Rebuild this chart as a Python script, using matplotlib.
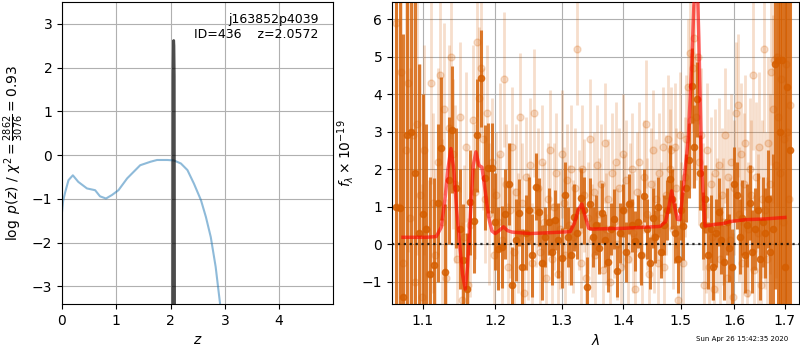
import matplotlib
matplotlib.use("Agg")
import matplotlib.pyplot as plt
import numpy as np
from matplotlib.ticker import NullLocator

# ---- redshift PDF (left panel) ----
z_grid = [0.0, 0.02, 0.06, 0.12, 0.20, 0.30, 0.46, 0.61, 0.70, 0.81, 0.92,
          1.04, 1.20, 1.44, 1.63, 1.75, 1.94, 2.06, 2.19, 2.31, 2.43, 2.56,
          2.65, 2.74, 2.83, 2.91, 3.00]
log_pz = [-1.30, -1.05, -0.84, -0.57, -0.46, -0.61, -0.76, -0.80, -0.94,
          -0.99, -0.91, -0.80, -0.53, -0.23, -0.15, -0.11, -0.11, -0.12,
          -0.19, -0.34, -0.65, -1.03, -1.41, -1.87, -2.55, -3.38, -4.50]

z_fine = [2.038, 2.046, 2.052, 2.0572, 2.062, 2.068, 2.076]
log_pz_fine = [-6.0, 1.8, 2.5, 2.62, 2.5, 1.8, -6.0]

z_best = 2.0572
root_name = "j163852p4039"
obj_id = 436
chi2, dof = 2862, 3076

# ---- spectrum (right panel) ----
# binned spectrum, sampled every 0.005 um starting at 1.065 um
wave0_bin, dwave_bin = 1.065, 0.005
flux_bin = [
    1.0, 0.95, -1.4, 2.9, 3.0, 1.9, 0.3, 0.8, 0.4, -0.8,
    -0.55, 1.1, 2.55, -0.74, 1.7, 3.05, 1.5, 0.4, -0.42, -1.2,
    1.12, 0.62, 2.9, 4.42, 1.77, 2.04, 2.04, 0.6, -0.12, -0.08,
    0.79, 1.6, -1.08, 0.11, 0.84, -0.6,
    0.3, 0.9, -0.3, 1.53, 0.85, -0.5, 0.18, 0.6, -0.2, 0.64,
    0.1, -0.38, 1.3, 0.2, -0.3, 0.71, 0.3, 1.24, 0.9, -1.14,
    1.07, 0.2, 0.5, -0.1, 0.82, 0.1, -0.47, 0.4, 0.67, -0.72,
    0.3, 0.9, -0.2, 1.07, 0.5, 0.08, 0.6, -0.3, 1.29, 0.4,
    -0.5, 0.7, 0.2, 0.98, -0.2, 0.5, 0.9, 1.73, 1.2, 0.3,
    -0.4, 0.9, 0.48, 1.5, 2.24, 4.22, 2.6, 3.86, 1.9, 0.5,
    1.2, -0.3, 0.4, -0.6, 0.3, 0.85, 0.1, -0.49, 0.6, -0.1,
    -0.6, 1.6, 1.3, 0.2, 0.7, -0.3, 0.5, 1.1, -0.2, 0.4,
    0.9, -0.4, 0.6, 0.3, 1.2, -0.2, 0.4, 4.8, 4.9, 3.0,
    4.9, -0.6, 4.18, 2.5,
]
err_bin = [
    9, 8, 7, 6.5, 6, 5.5, 4.5, 3.2, 2.8, 2.6,
    2.3, 2.1, 1.9, 1.8, 1.7, 1.7, 1.6, 1.6, 1.5, 1.5,
    1.4, 1.4, 1.5, 1.3, 1.4, 1.2, 1.2, 1.3, 1.1, 1.1,
    1.2, 1.1, 1.0, 1.1, 0.9, 1.0, 1.0, 0.9, 1.1, 0.9,
    0.9, 1.0, 0.8, 0.9, 0.9, 0.8, 1.0, 0.8, 0.9, 0.8,
    0.8, 0.9, 0.7, 0.8, 0.9, 0.8, 0.7, 0.8, 0.8, 0.7,
    0.8, 0.7, 0.8, 0.7, 0.8, 0.7, 0.8, 0.7, 0.8, 0.8,
    0.7, 0.8, 0.7, 0.8, 0.7, 0.8, 0.7, 0.8, 0.7, 0.8,
    0.7, 0.8, 0.8, 0.9, 0.8, 0.8, 0.9, 0.8, 0.9, 0.9,
    1.0, 1.0, 1.1, 1.0, 1.0, 0.9, 0.9, 0.9, 0.9, 0.9,
    0.9, 0.9, 0.9, 1.0, 0.9, 0.9, 1.0, 1.0, 0.9, 1.0,
    1.0, 1.0, 1.1, 1.0, 1.1, 1.1, 1.0, 1.1, 1.2, 1.2,
    1.3, 1.5, 2.0, 6, 7, 6, 7, 8, 8, 9,
]

# unbinned spectrum, sampled every 0.003 um starting at 1.066 um
wave0_raw, dwave_raw = 1.066, 0.003
flux_raw = [
    5.9, 1.0, 4.6, -0.5, 2.5, 4.3, 0.7, 2.9, -1.0, 3.2, 1.3, -1.4,
    2.5, 0.4, -0.8, 4.3, 1.1, -0.3, 2.2, 4.5, 0.6, 3.6, -0.9, 3.1,
    5.0, 2.4, 1.6, -0.4, 3.4, -1.5, 0.2, 2.6, -1.1, 0.5, 3.3, 1.4,
    5.4, 3.9, 4.7, 2.8, 1.2, 3.5, 0.8, 2.2, -0.3, 1.3, 0.6, 2.4,
    0.1, 4.4, 1.6, -0.6, 0.9, 2.6, -0.2, 1.4, 0.3, 3.4, 1.1, -1.3,
    1.8, 0.2, 2.1, -0.5, 3.5, 0.9, 1.5, -0.2, 2.2, 0.6, -0.9, 1.2,
    2.5, -0.4, 1.0, 1.9, -0.8, 0.4, 2.4, 1.1, -0.3, 1.7, 0.5, 2.0,
    0.2, 1.5, 5.2, 0.9, -0.5, 2.0, 1.3, -0.9, 0.7, 2.8, 0.1, 1.4,
    -0.3, 2.1, 0.8, 1.6, -0.7, 2.7, 0.4, 1.2, -1.0, 1.9, 0.6, 2.2,
    0.0, 1.5, -0.6, 2.4, 0.9, 1.7, -0.4, 1.1, 2.0, 0.3, -1.2, 1.4,
    2.2, 0.5, -0.3, 1.8, 3.2, 0.8, -0.8, 1.6, 2.5, 0.2, 1.2, -0.5,
    1.9, 0.7, 2.6, -0.6, 1.3, 2.8, 2.0, 2.5, 0.4, 2.6, 1.5, -1.5,
    2.9, 0.6, -0.5, 1.8, 2.8, 4.2, 5.1, 3.3, 4.7, 5.5, 3.4, 5.0,
    2.2, 2.9, 1.0, -1.1, 0.4, 2.5, -0.6, 1.6, 0.2, -1.2, 1.9, 0.5,
    2.1, -0.4, 1.3, 0.6, 2.9, -0.9, 1.8, 0.1, 2.2, -1.4, 1.5, 3.5,
    3.7, 0.8, 2.4, -0.5, 1.6, 2.7, -1.3, 0.4, 2.0, 1.3, 4.5, -0.7,
    1.8, 0.3, 2.6, -1.1, 1.2, 5.2, 0.9, -0.4, 2.7, 1.6, 4.6, 3.6,
    4.9, 2.1, 5.0, 3.4, 1.9, 4.4, 0.6, 2.8, 4.8, 3.0, 1.2, 3.7,
]
err_raw = [
    6.0, 5.0, 6.0, 5.0, 5.0, 4.5, 4.0, 4.5, 4.0, 3.5, 3.5, 3.0,
    2.8, 2.6, 2.5, 2.7, 2.4, 2.3, 2.5, 2.4, 2.2, 2.3, 2.1, 2.2,
    2.2, 2.0, 2.1, 1.9, 2.0, 2.1, 1.9, 2.0, 1.8, 1.9, 2.0, 1.8,
    2.0, 1.9, 1.8, 1.9, 1.7, 1.8, 1.9, 1.7, 1.8, 1.7, 1.8, 1.9,
    1.7, 1.8, 1.6, 1.7, 1.8, 1.6, 1.7, 1.8, 1.6, 1.7, 1.6, 1.7,
    1.6, 1.7, 1.8, 1.6, 1.7, 1.5, 1.6, 1.7, 1.5, 1.6, 1.7, 1.5,
    1.6, 1.5, 1.7, 1.6, 1.5, 1.6, 1.7, 1.5, 1.6, 1.5, 1.6, 1.7,
    1.5, 1.6, 1.5, 1.6, 1.5, 1.7, 1.5, 1.6, 1.5, 1.6, 1.5, 1.6,
    1.5, 1.6, 1.5, 1.6, 1.5, 1.6, 1.5, 1.6, 1.5, 1.6, 1.5, 1.6,
    1.5, 1.6, 1.5, 1.6, 1.5, 1.6, 1.5, 1.6, 1.5, 1.6, 1.5, 1.6,
    1.6, 1.5, 1.6, 1.5, 1.7, 1.5, 1.6, 1.5, 1.6, 1.5, 1.6, 1.5,
    1.6, 1.5, 1.6, 1.5, 1.6, 1.7, 1.6, 1.7, 1.6, 1.7, 1.6, 1.7,
    1.7, 1.6, 1.7, 1.6, 1.7, 1.8, 1.7, 1.8, 1.7, 1.8, 1.7, 1.8,
    1.7, 1.8, 1.7, 1.8, 1.7, 1.8, 1.7, 1.8, 1.7, 1.8, 1.7, 1.8,
    1.8, 1.7, 1.8, 1.7, 1.8, 1.7, 1.8, 1.7, 1.8, 1.7, 1.8, 1.9,
    1.9, 1.8, 1.9, 1.8, 1.9, 1.8, 1.9, 1.8, 1.9, 2.0, 2.0, 2.0,
    2.0, 2.1, 2.0, 2.1, 2.1, 2.2, 2.1, 2.2, 2.3, 2.4, 2.5, 2.5,
    2.5, 3.0, 4.0, 5.0, 5.0, 6.0, 6.0, 7.0, 7.0, 7.0, 8.0, 8.0,
]

# best-fit model
wave_model = [1.0744, 1.090, 1.105, 1.1182, 1.125, 1.130, 1.134, 1.1381,
              1.142, 1.146, 1.150, 1.154, 1.1578, 1.161, 1.165, 1.169,
              1.1728, 1.177, 1.1813, 1.186, 1.191, 1.1955, 1.2003, 1.206,
              1.2123, 1.218, 1.2246, 1.2518, 1.290, 1.3134, 1.320, 1.326,
              1.332, 1.338, 1.343, 1.3479, 1.4002, 1.4631, 1.473, 1.479,
              1.4838, 1.489, 1.494, 1.4987, 1.506, 1.5137, 1.520, 1.525,
              1.529, 1.533, 1.5382, 1.5444, 1.560, 1.580, 1.5915, 1.620,
              1.660, 1.700]
flux_model = [0.18, 0.18, 0.18, 0.20, 0.45, 1.2, 2.0, 2.55,
              2.0, 0.9, 0.0, -0.8, -1.2, -0.6, 0.8, 2.1,
              2.46, 2.1, 2.05, 1.4, 0.7, 0.35, 0.28, 0.36,
              0.46, 0.36, 0.32, 0.28, 0.31, 0.33, 0.55, 0.9,
              1.07, 0.7, 0.42, 0.40, 0.42, 0.47, 0.6, 1.0,
              1.42, 1.0, 0.66, 0.65, 1.7, 2.82, 4.8, 6.8,
              7.5, 5.5, 2.06, 0.48, 0.52, 0.55, 0.60, 0.65,
              0.67, 0.71]

wave_ticks = [1.1, 1.2, 1.3, 1.4, 1.5, 1.6, 1.7]
timestamp = "Sun Apr 26 15:42:35 2020"

GRISM_COLOR = (0.8352941176470589, 0.3686274509803922, 0.0)


def main() -> None:
    wave_bin = wave0_bin + dwave_bin * np.arange(len(flux_bin))
    wave_raw = wave0_raw + dwave_raw * np.arange(len(flux_raw))

    fig = plt.figure(figsize=(8, 3.5), dpi=100)
    ax1 = fig.add_axes([0.0775, 0.1314, 0.339, 0.863])
    ax2 = fig.add_axes([0.49, 0.1314, 0.509, 0.863])

    # p(z)
    ax1.plot(z_grid, log_pz, color="#1f77b4", alpha=0.5, lw=1.5)
    ax1.plot(z_fine, log_pz_fine, color="k", alpha=0.7, lw=2)
    ax1.text(0.945, 0.965, f"{root_name}\nID={obj_id}    z={z_best:.4f}",
             ha="right", va="top", transform=ax1.transAxes, fontsize=9)
    ax1.set_xlim(0, 4.995)
    ax1.set_ylim(-3.4, 3.5)
    ax1.set_xlabel(r"$z$")
    ax1.set_ylabel(r"$\log\ p(z)$ / $\chi^2=\frac{%d}{%d}=%.2f$"
                   % (chi2, dof, chi2 / dof))
    ax1.grid()

    # spectrum
    ax2.errorbar(wave_raw, flux_raw, err_raw, color=GRISM_COLOR, alpha=0.2,
                 marker="o", ms=5, linestyle="None", elinewidth=2)
    ax2.errorbar(wave_bin, flux_bin, err_bin, color=GRISM_COLOR, alpha=0.8,
                 marker="o", ms=4.5, linestyle="None", elinewidth=2.2)
    ax2.plot(wave_model, flux_model, color="r", alpha=0.6, lw=2.5, zorder=5)
    ax2.axhline(0, color="k", linestyle=":", lw=1.6, alpha=0.8, zorder=6)

    ax2.set_xscale("log")
    ax2.set_xlim(1.0603, 1.7295)
    ax2.set_ylim(-1.6, 6.46)
    ax2.set_xticks(wave_ticks)
    ax2.set_xticklabels([f"{w:.1f}" for w in wave_ticks])
    ax2.xaxis.set_minor_locator(NullLocator())
    ax2.set_xlabel(r"$\lambda$")
    ax2.set_ylabel(r"$f_\lambda\times10^{-19}$")
    ax2.grid()

    fig.text(0.985, 0.022, timestamp, ha="right", va="bottom", fontsize=5)

    fig.savefig("out.png", dpi=100)
    plt.close(fig)


if __name__ == "__main__":
    main()
